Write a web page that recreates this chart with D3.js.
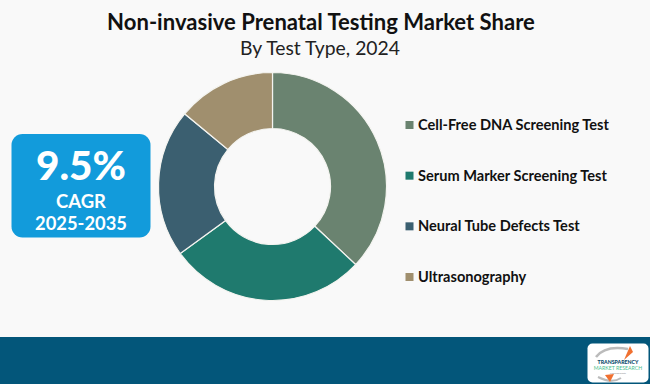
<!DOCTYPE html>
<html><head><meta charset="utf-8">
<script src="https://cdn.jsdelivr.net/npm/d3@7"></script>
<style>
html,body{margin:0;padding:0;background:#f9f9f9;}
svg{display:block;}
</style></head>
<body>
<script>
const categories = ["Cell-Free DNA Screening Test","Serum Marker Screening Test","Neural Tube Defects Test","Ultrasonography"];
const shares = [37, 28, 21, 14];
const colors = ["#6a8370","#1f7a6e","#3b5f70","#a08f6e"];
const titleText = "Non-invasive Prenatal Testing Market Share";
const subtitleText = "By Test Type, 2024";
const cagrValue = "9.5%";
const cagrLabel = "CAGR";
const cagrPeriod = "2025-2035";

const W = 650, H = 384;
const svg = d3.select("body").append("svg").attr("width", W).attr("height", H);
svg.append("rect").attr("width", W).attr("height", H).attr("fill", "#f9f9f9");

function fit(sel, target){
  const fs = parseFloat(sel.attr("font-size"));
  const w = sel.node().getComputedTextLength();
  sel.attr("font-size", fs * target / w);
}

// Title
const t = svg.append("text").attr("x", 321).attr("y", 29.5).attr("text-anchor","middle")
  .attr("font-family","Lato, 'Open Sans', sans-serif").attr("font-weight", 700)
  .attr("font-size", 22).attr("fill","#111").text(titleText);
fit(t, 428);
const st = svg.append("text").attr("x", 320).attr("y", 55).attr("text-anchor","middle")
  .attr("font-family","Lato, 'Open Sans', sans-serif").attr("font-weight", 400)
  .attr("font-size", 18).attr("fill","#222").text(subtitleText);
fit(st, 160);

// Donut
const cx = 272.5, cy = 186.5, rOut = 114, rIn = 58;
const pie = d3.pie().sort(null).value(d => d)(shares);
const arc = d3.arc().innerRadius(rIn).outerRadius(rOut);
svg.append("g").attr("transform", `translate(${cx},${cy})`)
  .selectAll("path").data(pie).join("path")
  .attr("d", arc).attr("fill", (d,i) => colors[i])
  .attr("stroke", "#f4f4f0").attr("stroke-width", 1.2);

// Legend
const legendY = d3.scalePoint().domain(categories).range([125, 277]);
const lg = svg.append("g");
categories.forEach((c,i) => {
  const y = legendY(c);
  lg.append("rect").attr("x", 405.5).attr("y", y - 4).attr("width", 8).attr("height", 8).attr("fill", colors[i]);
  lg.append("text").attr("x", 418).attr("y", y).attr("dy","0.35em")
    .attr("font-family","Lato, 'Open Sans', sans-serif").attr("font-weight", 700)
    .attr("font-size", 14).attr("fill","#111").text(c);
});
{
  const first = lg.selectAll("text").nodes()[0];
  const w = first.getComputedTextLength();
  const fs = 14 * 191 / w;
  lg.selectAll("text").attr("font-size", fs);
}

// CAGR box
svg.append("rect").attr("x", 11.5).attr("y", 134).attr("width", 139).attr("height", 103.5)
  .attr("rx", 11).attr("fill", "#129bdb");
const v = svg.append("text").attr("x", 81).attr("y", 180).attr("text-anchor","middle")
  .attr("font-family","Lato, sans-serif").attr("font-weight", 900)
  .attr("font-size", 42).attr("fill","#fff").text(cagrValue);
fit(v, 90);
const cl = svg.append("text").attr("x", 81).attr("y", 205).attr("text-anchor","middle")
  .attr("font-family","Lato, sans-serif").attr("font-weight", 700)
  .attr("font-size", 16).attr("fill","#fff").text(cagrLabel);
fit(cl, 50);
const cp = svg.append("text").attr("x", 81).attr("y", 226).attr("text-anchor","middle")
  .attr("font-family","Lato, sans-serif").attr("font-weight", 700)
  .attr("font-size", 17).attr("fill","#fff").text(cagrPeriod);
fit(cp, 92);
// stack without bbox overlap
{
  const vb = v.node().getBBox();
  let cb = cl.node().getBBox();
  const y1 = parseFloat(cl.attr("y")) + Math.max(0, vb.y + vb.height + 0.5 - cb.y);
  cl.attr("y", y1);
  cb = cl.node().getBBox();
  let pb = cp.node().getBBox();
  const y2 = parseFloat(cp.attr("y")) + Math.max(0, cb.y + cb.height + 0.5 - pb.y);
  cp.attr("y", y2);
}

// Bottom band
svg.append("rect").attr("x", 0).attr("y", 337).attr("width", W).attr("height", H - 337).attr("fill", "#03567a");

// Logo
const logo = svg.append("g");
logo.append("rect").attr("x", 587.5).attr("y", 343.5).attr("width", 61).attr("height", 39).attr("rx", 5).attr("fill", "#fff");
logo.append("path").attr("d","M596,357 Q605,345 628,349").attr("fill","none").attr("stroke","#bbb").attr("stroke-width",2.5);
logo.append("path").attr("d","M624,360 L630,346 L633,352 Z").attr("fill","#f07030");
logo.append("path").attr("d","M621,378 Q612,384 598,377").attr("fill","none").attr("stroke","#bbb").attr("stroke-width",2);
logo.append("path").attr("d","M610,382 L605,375 L614,374 Z").attr("fill","#f07030");
logo.append("text").attr("x", 618).attr("y", 364).attr("text-anchor","middle")
  .attr("font-family","Lato, sans-serif").attr("font-weight",900).attr("font-size",5.2).attr("fill","#0a4a6a").text("TRANSPARENCY");
logo.append("text").attr("x", 618).attr("y", 370).attr("text-anchor","middle")
  .attr("font-family","Lato, sans-serif").attr("font-weight",400).attr("font-size",5.2).attr("fill","#4cbf8f").text("MARKET RESEARCH");
logo.append("text").attr("x", 618).attr("y", 373.5).attr("text-anchor","middle")
  .attr("font-family","Lato, sans-serif").attr("font-size",2).attr("fill","#888").text("Propelling Growth");
</script>
</body></html>
